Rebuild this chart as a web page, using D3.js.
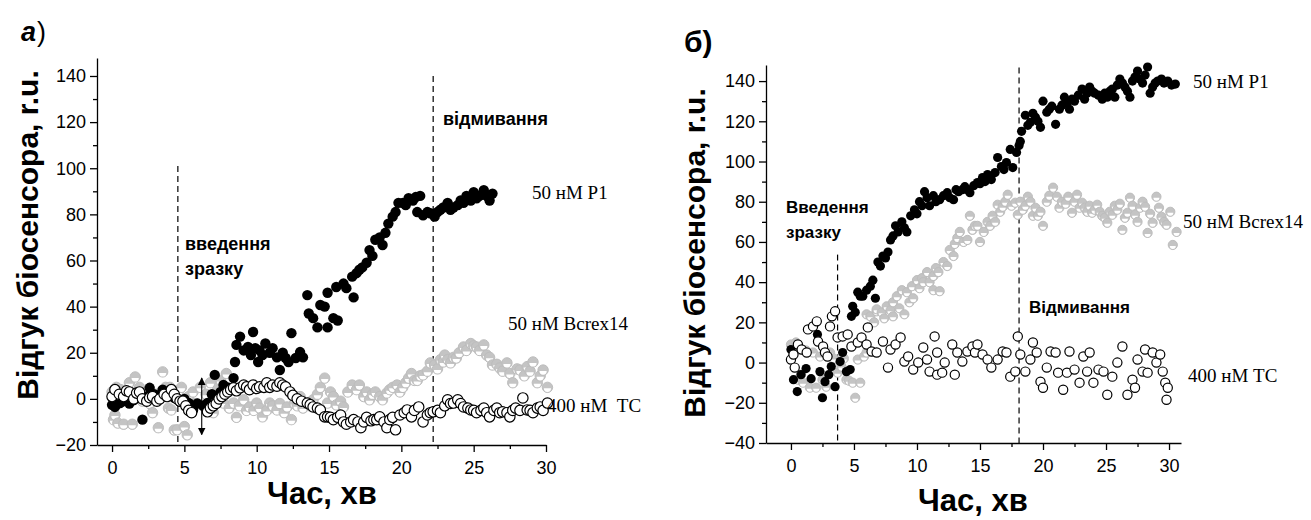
<!DOCTYPE html>
<html>
<head>
<meta charset="utf-8">
<script src="https://cdn.jsdelivr.net/npm/d3@7"></script>
<style>
  body { margin: 0; background: #fff; }
  svg { display: block; }
  .tick text { font-family: "Liberation Sans", Arial, sans-serif; font-size: 18px; fill: #000; }
  .domain, .tick line { stroke: #000; stroke-width: 1.3; }
</style>
</head>
<body>
<svg id="chart" width="1311" height="520"></svg>
<script>
// ---- data: [time, response] ----
const xTicks = [0, 5, 10, 15, 20, 25, 30];
const xMinor = [2.5, 7.5, 12.5, 17.5, 22.5, 27.5];
const yTicksA = [-20, 0, 20, 40, 60, 80, 100, 120, 140];
const yMinorA = [-10, 10, 30, 50, 70, 90, 110, 130];
const yTicksB = [-40, -20, 0, 20, 40, 60, 80, 100, 120, 140];
const yMinorB = [-30, -10, 10, 30, 50, 70, 90, 110, 130];

const p1A = [[0,-2.6],[0.2,-3.5],[0.4,-2],[0.55,-1.8],[0.8,-1],[1.0,-0.4],[1.2,-2],[1.5,-0.5],[1.8,0.5],[2.1,-9],[2.4,1],[2.6,4.8],[2.9,2],[3.2,1.5],[3.5,4],[3.7,3],[4.0,2],[4.3,0.5],[4.7,-1.3],[5.0,0],[5.3,-1.8],[5.6,-4.8],[5.9,-2],[6.3,-3],[6.6,-1.8],[6.9,2],[7.1,10.4],[7.2,0.4],[7.5,3],[7.7,6],[8.0,5],[8.4,9],
  [8.5,16],[8.6,23.4],[8.85,27],[9.1,21],[9.4,22.5],[9.6,19],[9.75,29],[9.9,22],[10.1,16],[10.2,21],[10.4,19],[10.6,24],[10.9,20],[11.1,22],[11.4,18],[11.6,12.5],[11.8,20],[12.0,17.7],[12.2,16],[12.4,28.5],[12.7,17.7],[13.0,20.3],[13.2,18],
  [13.5,45],[13.6,37],[13.9,35],[14.2,31],[14.4,40.7],[14.7,40],[14.9,46],[14.9,31],[15.3,35],[15.5,48.5],[15.6,34],[16.0,50],[16.2,48],[16.6,53],[16.7,44],[16.9,54.5],[17.1,56],[17.3,57],[17.6,59],[17.8,64.5],[18.0,62],[18.2,69],[18.5,70],[18.7,66.7],[18.9,72],[19.1,76],[19.4,79],[19.6,81],[19.8,85],[20.1,85],[20.3,84],[20.5,87],[20.8,86],[21.0,87.5],[21.3,88],[21.1,81],[21.5,79.6],[21.8,81],[22.0,80.5],[22.3,79],[22.5,81],[22.7,82],[22.9,83],[23.2,85],[23.4,82],[23.6,83],[23.9,84],[24.1,86],[24.3,85],[24.5,88],[24.8,86],[25.0,89.6],[25.2,87],[25.4,88],[25.7,90.5],[25.9,88],[26.1,86],[26.3,89]];

const bcA = [[0,3],[0.1,-9],[0.2,-7],[0.3,5],[0.4,-10.5],[0.6,4],[0.8,-11],[1.0,2],[1.2,7],[1.4,-11],[1.5,1],[1.6,9.5],[1.9,5],[2.1,-1],[2.4,2.6],[2.6,-2],[2.8,-6],[3.0,2],[3.2,-12.5],[3.4,3],[3.5,11.7],[3.7,5],[3.9,-4],[4.0,5],[4.1,-4.8],[4.3,-13.5],[4.5,-13.4],[4.6,3],[4.8,5],[5.0,-12],[5.2,-15.6],[5.3,1],[5.6,3],[5.8,-2],[6.1,5],[6.3,-3],[6.5,2],[6.8,7],[7.0,-6],[7.3,4],[7.5,8],[7.7,-1.8],[7.9,11],[8.1,-4],[8.4,-1.8],[8.6,-8],[8.8,-3],[9.1,-0.4],[9.3,-5],[9.5,-3.5],[9.8,-5],[10.0,-1.8],[10.2,-4],[10.4,-7.8],[10.7,-5],[10.9,-1.8],[11.1,-3],[11.4,-4.8],[11.6,-2],[11.9,-6],[12.1,-3.5],[12.4,-9],[12.6,-2],[12.8,-3],[13.0,1],[13.2,-4],[13.5,-1.8],[13.7,-3],[13.9,-0.4],[14.2,2],[14.4,5],[14.7,9],[14.9,-1.8],[15.1,3],[15.3,1],[15.5,-2.6],[15.8,-1],[16.0,-3.5],[16.3,3],[16.6,6],[16.9,4],[17.1,6],[17.4,1],[17.6,3],[17.8,-0.4],[18.0,2],[18.2,3],[18.5,1],[18.7,-0.4],[19.0,2.6],[19.2,4],[19.4,5],[19.7,6],[19.9,3],[20.1,5],[20.3,7],[20.5,9],[20.7,11],[20.9,8],[21.1,8],[21.3,10],[21.5,10.4],[21.8,12],[22.0,15.6],[22.3,14.7],[22.5,13],[22.7,17],[22.9,16],[23.0,19],[23.2,17],[23.4,15.6],[23.6,18],[23.8,17.7],[24.0,20],[24.3,22.5],[24.5,21],[24.8,24],[25.0,23],[25.2,22.5],[25.4,21],[25.7,23.4],[25.9,19],[26.1,18],[26.3,14.7],[26.6,15],[26.8,13.4],[27.0,12],[27.3,15.6],[27.5,11],[27.7,7],[28.0,13],[28.2,12.5],[28.5,10],[28.7,14],[28.9,12],[29.1,16],[29.4,7],[29.6,10],[29.8,12.5],[30.1,5]];

const tcA = [[0,1],[0.2,4],[0.5,2],[0.8,1],[1.0,3.5],[1.2,3],[1.5,0],[1.7,2.5],[1.9,3],[2.1,0],[2.4,-1],[2.6,0.5],[2.8,1],[3.1,-1],[3.3,0],[3.6,2],[3.8,1],[4.1,4],[4.3,2],[4.5,0],[4.7,-1],[4.9,-1],[5.1,-3],[5.3,-5],[5.5,-6],[6.6,-5.6],[6.8,-4],[7.0,-3],[7.2,-2],[7.4,0],[7.6,1],[7.8,2],[8.0,3],[8.2,4],[8.4,4.8],[8.6,3.5],[8.85,4.8],[9.1,6],[9.3,5.2],[9.5,4],[9.75,6],[10.0,4.5],[10.2,5.2],[10.5,5],[10.7,7],[10.9,5],[11.1,6],[11.4,5.5],[11.6,7],[11.8,6],[12.0,5.2],[12.3,3],[12.5,1.5],[12.8,0],[13.1,-1],[13.5,-1.8],[13.7,-2.5],[13.9,-3.5],[14.2,-4],[14.4,-4.8],[14.7,-7.8],[14.9,-7.8],[15.1,-8],[15.3,-9],[15.6,-8],[15.8,-7],[16.0,-10],[16.2,-11],[16.5,-10],[16.7,-9],[17.0,-10],[17.2,-12.5],[17.4,-10],[17.6,-8],[17.9,-9.5],[18.1,-9],[18.3,-9],[18.5,-7.8],[18.8,-10],[19.0,-12.5],[19.2,-9],[19.4,-8],[19.6,-13.4],[19.9,-7],[20.2,-6],[20.4,-4.8],[20.7,-7.8],[20.9,-5],[21.2,-3.5],[21.5,-10],[21.8,-7],[22.0,-6],[22.2,-5.6],[22.5,-5],[22.7,-6],[23.0,-3],[23.2,-0.4],[23.4,-2],[23.6,-1.8],[23.9,-0.4],[24.1,-2],[24.3,-3.5],[24.6,-4],[24.8,-4.8],[25.0,-5],[25.2,-6],[25.5,-5],[25.7,-4],[25.9,-6],[26.1,-7.8],[26.4,-5],[26.6,-4],[26.8,-6],[27.0,-5.6],[27.3,-6],[27.5,-7.8],[27.7,-5],[27.9,-4],[28.2,-5],[28.4,0.4],[28.7,-4.8],[28.9,-5],[29.1,-6],[29.4,-4],[29.6,-3.5],[29.8,-5],[30.1,-1.8]];

const p1B = [[0,6.5],[0.2,-8.5],[0.5,-14.4],[0.8,-6],[1.2,-3],[1.6,-8],[2.1,14],[2.3,-4.5],[2.5,-17.5],[2.7,-9.5],[3.0,-6],[3.2,-2],[3.5,-12],[3.9,0.5],[4.1,5],[4.4,-4.5],[4.7,-3.5],[4.8,23],[4.9,28],[5.1,25],[5.3,35],[5.5,33],[5.7,33],[6.0,36],[6.3,38],[6.5,41],[6.7,32],[6.9,50],[7.1,48],[7.3,53],[7.5,52],[7.7,55],[7.9,61],[8.1,63],[8.3,68],[8.5,65],[8.8,70],[9.0,67],[9.2,65],[9.5,73],[9.8,76],[10.0,74],[10.2,80],[10.4,78],[10.6,85],[10.8,82],[11.0,78],[11.3,83],[11.5,80],[11.8,81],[12.1,83],[12.4,84.5],[12.6,82],[12.9,81],[13.1,86],[13.3,85],[13.6,86],[13.8,87.5],[14.0,86],[14.2,84.5],[14.5,88],[14.8,89.5],[15.0,89],[15.2,92],[15.4,90],[15.6,93.5],[15.9,91],[16.2,94.5],[16.4,102],[16.7,97.5],[16.9,96],[17.1,99.5],[17.4,106],[17.6,97],[17.9,104.5],[18.1,108],[18.2,110],[18.3,115],[18.6,123],[18.8,118],[19.0,119.5],[19.2,124],[19.4,122],[19.6,120],[19.8,117],[20.0,130],[20.3,124.5],[20.5,126],[20.7,127.5],[21.0,118.5],[21.3,126],[21.5,128],[21.7,132],[21.9,129],[22.1,126],[22.3,131],[22.5,130],[22.8,133],[23.1,136],[23.3,131],[23.5,134],[23.7,137],[23.9,135],[24.1,134],[24.4,133],[24.7,131],[24.9,134],[25.1,132],[25.3,135],[25.5,136],[25.7,132],[25.9,138],[26.1,141],[26.3,139],[26.5,137],[26.7,135],[26.9,132],[27.1,140],[27.3,142],[27.5,145],[27.7,141],[27.9,139],[28.1,143],[28.3,147],[28.5,134],[28.7,137],[28.9,139],[29.1,140],[29.4,141],[29.6,139],[29.9,140],[30.2,138],[30.5,138.5]];

const bcB = [[0,9],[0.2,7],[0.4,10],[0.55,-8.5],[0.8,-6],[0.95,-10],[1.2,6],[1.5,-12.5],[1.75,5],[2.0,-12.5],[2.3,3],[2.5,-8.5],[2.8,-12],[3.1,5],[3.4,2],[3.7,-5],[4.0,-2],[4.2,2],[4.4,-8.5],[4.6,-9],[4.9,-10],[5.1,-17.5],[5.3,1.5],[5.5,-10],[5.8,3],[6.0,5],[6.0,24],[6.3,23],[6.6,20],[6.8,25.5],[6.8,26.5],[7.2,25],[7.4,22],[7.6,28],[7.9,26],[8.1,30],[8.1,23],[8.4,33],[8.6,27],[8.8,36],[9.0,24],[9.2,35],[9.4,30],[9.6,38],[9.7,32],[10.0,41],[10.2,37],[10.4,42],[10.5,40],[10.8,45],[11.0,40],[11.3,36],[11.3,43],[11.5,47],[11.7,45],[11.8,35.5],[12.1,50],[12.4,48],[12.6,56],[12.9,53],[13.0,59],[13.2,62],[13.4,65],[13.7,60],[14.0,61],[14.2,73],[14.4,66],[14.6,68],[14.8,68],[15.0,60],[15.3,65],[15.6,70],[15.8,68],[16.0,73],[16.2,70],[16.4,78.5],[16.6,75],[16.8,77.5],[17.0,80],[17.2,83.5],[17.5,78],[17.8,79.5],[18.0,73.5],[18.2,80],[18.4,76],[18.6,78],[18.8,82.5],[19.0,80],[19.2,73],[19.4,77],[19.6,73],[19.8,75],[20.0,68],[20.3,80],[20.5,83],[20.8,87],[21.1,82.5],[21.3,77],[21.5,80],[21.8,79],[22.0,82.5],[22.3,74.5],[22.5,80],[22.7,83.5],[22.9,77],[23.1,79.5],[23.3,77],[23.5,75],[23.7,78],[23.9,74.5],[24.1,76],[24.3,78.5],[24.5,75],[24.7,73],[24.9,72],[25.1,69.5],[25.3,75],[25.5,73.5],[25.7,78],[25.9,76],[26.1,79],[26.3,66],[26.5,72],[26.7,74.5],[26.9,82],[27.1,78],[27.3,73.5],[27.5,70],[27.7,77],[27.9,80],[28.1,77.5],[28.3,64.5],[28.5,74],[28.7,69.5],[29.0,82.5],[29.2,77],[29.4,72.5],[29.6,70],[29.8,68.5],[30.1,75],[30.3,58.5],[30.6,65]];

const tcB = [[0,1.5],[0.2,4],[0.3,-2.5],[0.55,9],[0.85,6.5],[1.25,5],[1.35,16.5],[1.75,18],[2.05,20.5],[2.15,10.5],[2.55,8],[2.7,5],[2.9,3],[3.1,18],[3.25,23],[3.5,25.5],[3.7,12.5],[4.1,13],[4.5,14],[4.8,8],[5.3,10],[5.6,12.5],[6.0,9],[6.1,17.5],[6.4,5.5],[6.8,5],[7.3,10.5],[7.7,-2.5],[7.9,6.5],[8.3,9],[8.7,12.5],[9.0,0.5],[9.3,3],[9.7,-3.5],[10.1,0],[10.5,7.5],[10.8,1.5],[11.0,-4.5],[11.4,13],[11.6,5],[11.6,-6],[12.0,-5],[12.2,0],[12.8,9],[13.0,-6],[13.2,5],[13.6,0.5],[14.0,5.5],[14.4,8],[14.6,5],[14.8,9],[15.2,4],[15.6,1.5],[15.9,-2.5],[16.4,1.5],[16.8,5.5],[17.1,5],[17.4,-7],[17.8,-4.5],[18.0,13],[18.2,4],[18.6,-4.5],[19.0,1.5],[19.2,10],[19.5,5],[19.8,-9.5],[20.0,-12.5],[20.3,-2.5],[20.6,5.5],[21.0,5],[21.2,-5],[21.6,-13.5],[21.9,-5],[22.1,5.5],[22.5,-3.5],[22.9,-10],[23.2,3],[23.5,-4.5],[23.7,5],[24.0,-10],[24.4,-3.5],[24.8,-4.5],[25.1,-16],[25.5,-7],[25.9,0],[26.3,8],[26.7,-16],[27.1,-8.5],[27.3,-12.5],[27.5,1.5],[27.9,-4.5],[28.1,6.5],[28.3,-5],[28.7,5],[29.0,0],[29.3,4],[29.5,-4.5],[29.7,-10],[29.9,-12.5],[29.8,-18.5]];

const svg = d3.select("#chart");
const FONT = "'Liberation Sans', Arial, sans-serif";
const SERIF = "'Liberation Serif', 'Times New Roman', serif";

svg.append("defs").append("marker")
  .attr("id", "arrowhead")
  .attr("viewBox", "0 0 10 10").attr("refX", 9).attr("refY", 5)
  .attr("markerWidth", 7).attr("markerHeight", 7)
  .attr("orient", "auto-start-reverse")
  .append("path").attr("d", "M0,0 L10,5 L0,10 z").attr("fill", "#000");

function drawPanel(cfg) {
  const x = d3.scaleLinear().domain(cfg.xDomain).range(cfg.xRange);
  const y = d3.scaleLinear().domain(cfg.yDomain).range(cfg.yRange);
  const g = svg.append("g");

  // axes: major + minor ticks
  g.append("g").attr("transform", `translate(0,${cfg.yRange[0]})`)
    .call(d3.axisBottom(x).tickValues(xTicks).tickSize(7).tickSizeOuter(0).tickPadding(9));
  g.append("g").attr("transform", `translate(0,${cfg.yRange[0]})`)
    .call(d3.axisBottom(x).tickValues(xMinor).tickSize(4).tickFormat(""))
    .select(".domain").remove();
  g.append("g").attr("transform", `translate(${cfg.xRange[0]},0)`)
    .call(d3.axisLeft(y).tickValues(cfg.yTicks).tickSize(7).tickSizeOuter(0).tickPadding(4));
  g.append("g").attr("transform", `translate(${cfg.xRange[0]},0)`)
    .call(d3.axisLeft(y).tickValues(cfg.yMinor).tickSize(4).tickFormat(""))
    .select(".domain").remove();

  // dashed event lines
  cfg.events.forEach(e => {
    g.append("line")
      .attr("x1", x(e.t)).attr("x2", x(e.t))
      .attr("y1", y(e.from)).attr("y2", y(cfg.yDomain[0]))
      .attr("stroke", "#000").attr("stroke-width", 1.2)
      .attr("stroke-dasharray", "6,4");
  });

  const r = cfg.r;
  // grey half-filled markers (Bcrex14)
  const gm = g.append("g").selectAll("g").data(cfg.bc).enter().append("g")
    .attr("transform", d => `translate(${x(d[0])},${y(d[1])})`);
  gm.append("circle").attr("r", r).attr("fill", "#c4c4c4").attr("stroke", "#bdbdbd").attr("stroke-width", 1);
  gm.append("path")
    .attr("d", `M${-(r - 1.6)},1 A${r - 1.6},${r - 1.6} 0 0 0 ${r - 1.6},1 Z`)
    .attr("fill", "#fff");

  // filled black markers (P1)
  g.append("g").selectAll("circle").data(cfg.p1).enter().append("circle")
    .attr("cx", d => x(d[0])).attr("cy", d => y(d[1])).attr("r", r)
    .attr("fill", "#000");

  // open markers (TC)
  g.append("g").selectAll("circle").data(cfg.tc).enter().append("circle")
    .attr("cx", d => x(d[0])).attr("cy", d => y(d[1])).attr("r", r)
    .attr("fill", "#fff").attr("stroke", "#000").attr("stroke-width", 1.2);

  // axis titles
  g.append("text")
    .attr("x", (x(0) + x(30)) / 2 + cfg.xTitleDx).attr("y", cfg.xTitleY)
    .attr("text-anchor", "middle")
    .style("font-family", FONT).style("font-weight", "bold").style("font-size", "31px")
    .text("Час, хв");
  g.append("text")
    .attr("transform", `translate(${cfg.yTitleX},${cfg.yTitleY}) rotate(-90)`)
    .attr("text-anchor", "middle")
    .style("font-family", FONT).style("font-weight", "bold").style("font-size", "30px")
    .text("Відгук біосенсора, r.u.");

  // annotations
  cfg.notes.forEach(n => {
    g.append("text").attr("x", n.x).attr("y", n.y)
      .style("font-family", FONT).style("font-weight", "bold").style("font-size", n.size + "px")
      .text(n.text);
  });
  cfg.labels.forEach(n => {
    g.append("text").attr("x", n.x).attr("y", n.y).attr("xml:space", "preserve")
      .style("font-family", SERIF).style("font-size", "19px")
      .text(n.text);
  });

  if (cfg.arrow) {
    g.append("line")
      .attr("x1", x(cfg.arrow.t)).attr("x2", x(cfg.arrow.t))
      .attr("y1", y(cfg.arrow.from)).attr("y2", y(cfg.arrow.to))
      .attr("stroke", "#000").attr("stroke-width", 1.1)
      .attr("marker-start", "url(#arrowhead)").attr("marker-end", "url(#arrowhead)");
  }
}

drawPanel({
  xDomain: [-1.04, 30], xRange: [97, 546],
  yDomain: [-20, 147.8], yRange: [445, 58],
  yTicks: yTicksA, yMinor: yMinorA, r: 5.2,
  p1: p1A, bc: bcA, tc: tcA,
  events: [{ t: 4.55, from: 101 }, { t: 22.2, from: 140 }],
  arrow: { t: 6.2, from: 9, to: -15.5 },
  xTitleDx: -7, xTitleY: 504,
  yTitleX: 38, yTitleY: 235,
  notes: [
    { x: 185, y: 250, size: 18, text: "введення" },
    { x: 185, y: 275, size: 18, text: "зразку" },
    { x: 443, y: 125, size: 18, text: "відмивання" }
  ],
  labels: [
    { x: 532, y: 199, text: "50 нМ Р1" },
    { x: 508, y: 330, text: "50 нМ Bcrex14" },
    { x: 547, y: 412, text: "400 нМ  ТС" }
  ]
});

drawPanel({
  xDomain: [-1.98, 30.95], xRange: [766, 1181],
  yDomain: [-40, 148], yRange: [443, 65],
  yTicks: yTicksB, yMinor: yMinorB, r: 4.6,
  p1: p1B, bc: bcB, tc: tcB,
  events: [{ t: 3.7, from: 53.7 }, { t: 18.1, from: 146.8 }],
  arrow: null,
  xTitleDx: -7, xTitleY: 511,
  yTitleX: 705, yTitleY: 253,
  notes: [
    { x: 786, y: 213, size: 17, text: "Введення" },
    { x: 786, y: 238, size: 17, text: "зразку" },
    { x: 1029, y: 313, size: 17, text: "Відмивання" }
  ],
  labels: [
    { x: 1193, y: 88, text: "50 нМ Р1" },
    { x: 1183, y: 228, text: "50 нМ Bcrex14" },
    { x: 1188, y: 382, text: "400 нМ ТС" }
  ]
});

// panel letters
svg.append("text").attr("x", 21).attr("y", 41)
  .style("font-family", FONT).style("font-weight", "bold").style("font-style", "italic").style("font-size", "27px")
  .text("а");
svg.append("text").attr("x", 37).attr("y", 41)
  .style("font-family", FONT).style("font-size", "27px")
  .text(")");
svg.append("text").attr("x", 684).attr("y", 52)
  .style("font-family", FONT).style("font-weight", "bold").style("font-size", "30px")
  .text("б)");
</script>
</body>
</html>
